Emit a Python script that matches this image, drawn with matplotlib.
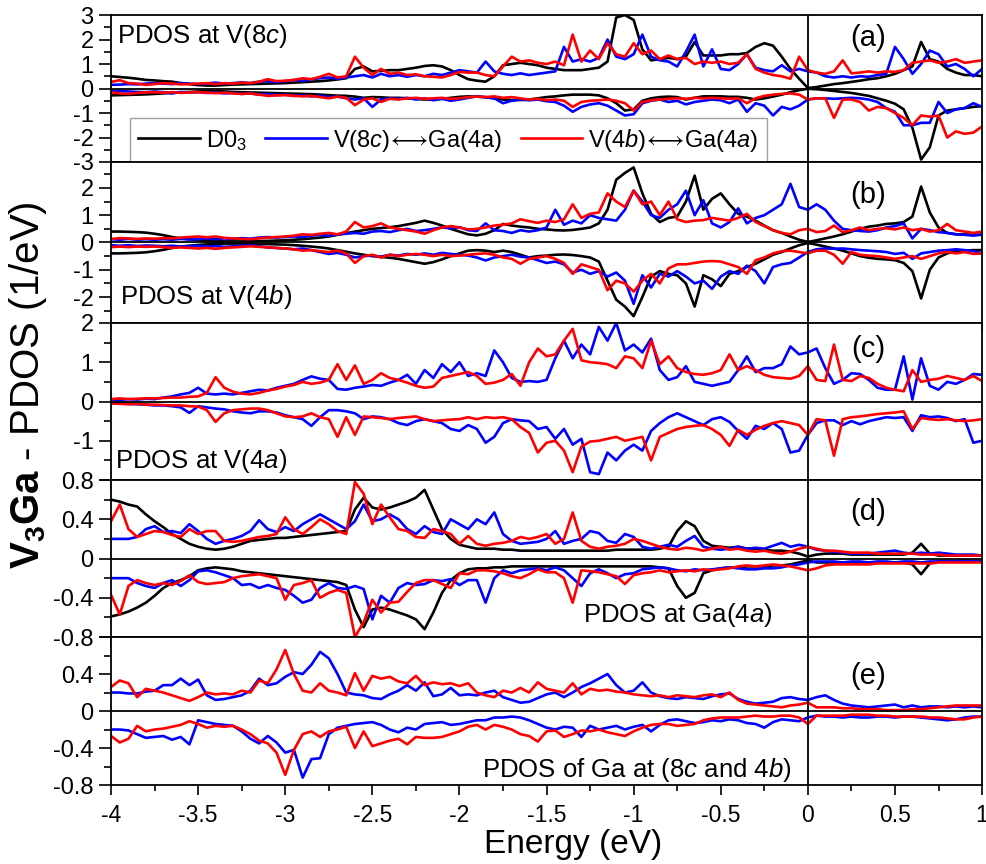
import numpy as np
import matplotlib.pyplot as plt
from matplotlib.ticker import MultipleLocator

plt.rcParams['font.family'] = ['Liberation Sans', 'DejaVu Sans']
plt.rcParams['mathtext.fontset'] = 'custom'
plt.rcParams['mathtext.rm'] = 'Liberation Sans'
plt.rcParams['mathtext.it'] = 'Liberation Sans:italic'
plt.rcParams['mathtext.bf'] = 'Liberation Sans:bold'
plt.rcParams['axes.unicode_minus'] = False

# energy grid (eV), 0.05 eV step, values at these points
energy = np.linspace(-4, 1, 101)

# ---- (a) PDOS at V(8c) ----
a_black_up = [0.50, 0.47, 0.44, 0.40, 0.35, 0.33, 0.30, 0.28, 0.22, 0.18, 0.14, 0.12, 0.12, 0.14, 0.16, 0.17, 0.18, 0.19, 0.20, 0.21,
              0.22, 0.24, 0.26, 0.28, 0.30, 0.33, 0.37, 0.42, 0.80, 0.90, 0.70, 0.72, 0.75, 0.75, 0.80, 0.85, 0.92, 0.95, 0.90, 0.75,
              0.55, 0.38, 0.32, 0.28, 0.50, 0.95, 1.00, 1.05, 1.00, 0.95, 0.85, 0.80, 0.75, 0.75, 0.75, 0.80, 0.85, 1.10, 2.90, 3.00,
              2.80, 1.60, 1.15, 1.20, 1.25, 1.20, 1.30, 1.90, 1.35, 1.35, 1.35, 1.40, 1.40, 1.45, 1.70, 1.85, 1.75, 1.30, 0.80, 0.40,
              0.02, 0.06, 0.12, 0.18, 0.22, 0.27, 0.32, 0.38, 0.42, 0.50, 0.60, 0.75, 0.90, 1.90, 1.20, 1.10, 0.80, 0.65, 0.55, 0.55,
              0.50]
a_black_dn = [-0.28, -0.27, -0.26, -0.25, -0.24, -0.22, -0.20, -0.18, -0.16, -0.14, -0.12, -0.10, -0.10, -0.12, -0.14, -0.15, -0.16, -0.17, -0.18, -0.19,
              -0.20, -0.21, -0.22, -0.23, -0.25, -0.27, -0.29, -0.30, -0.33, -0.38, -0.35, -0.36, -0.38, -0.38, -0.40, -0.42, -0.45, -0.44, -0.42, -0.38,
              -0.34, -0.32, -0.33, -0.36, -0.40, -0.45, -0.47, -0.47, -0.45, -0.40, -0.35, -0.32, -0.28, -0.25, -0.25, -0.25, -0.28, -0.40, -0.60, -0.90,
              -0.85, -0.50, -0.40, -0.35, -0.33, -0.35, -0.45, -0.38, -0.32, -0.32, -0.32, -0.34, -0.34, -0.38, -0.45, -0.40, -0.33, -0.25, -0.15, -0.07,
              -0.01, -0.03, -0.06, -0.10, -0.14, -0.18, -0.24, -0.30, -0.40, -0.50, -0.62, -0.85, -1.60, -2.90, -2.40, -1.10, -0.90, -0.85, -0.80, -0.75,
              -0.72]
a_blue_up = [0.15, 0.16, 0.18, 0.17, 0.20, 0.22, 0.20, 0.18, 0.22, 0.20, 0.18, 0.21, 0.24, 0.20, 0.22, 0.25, 0.22, 0.28, 0.30, 0.26,
             0.30, 0.35, 0.32, 0.38, 0.42, 0.45, 0.40, 0.45, 0.50, 0.55, 0.45, 0.60, 0.50, 0.55, 0.48, 0.55, 0.50, 0.60, 0.55, 0.65,
             0.75, 0.70, 0.65, 1.10, 0.70, 0.60, 0.55, 0.62, 0.55, 0.60, 0.65, 0.70, 1.70, 1.10, 1.20, 1.10, 1.25, 2.00, 1.30, 1.20,
             1.40, 2.20, 1.30, 1.15, 1.10, 0.90, 1.50, 2.20, 0.90, 1.60, 0.80, 0.75, 1.00, 1.40, 0.85, 0.75, 0.70, 0.95, 0.70, 0.80,
             0.70, 0.65, 0.50, 0.45, 0.50, 0.45, 0.50, 0.48, 0.55, 0.60, 1.70, 1.20, 0.60, 1.00, 1.55, 1.40, 0.90, 1.00, 0.80, 0.50,
             0.80]
a_blue_dn = [-0.12, -0.10, -0.12, -0.14, -0.15, -0.12, -0.15, -0.20, -0.14, -0.16, -0.15, -0.18, -0.16, -0.20, -0.18, -0.22, -0.20, -0.25, -0.22, -0.27,
             -0.25, -0.30, -0.28, -0.32, -0.30, -0.35, -0.33, -0.40, -0.45, -0.40, -0.75, -0.45, -0.40, -0.42, -0.38, -0.45, -0.40, -0.48, -0.42, -0.50,
             -0.45, -0.38, -0.32, -0.35, -0.40, -0.60, -0.50, -0.45, -0.48, -0.45, -0.52, -0.55, -0.70, -0.95, -0.75, -0.65, -0.60, -0.70, -0.90, -1.10,
             -1.05, -0.60, -0.50, -0.45, -0.55, -0.50, -0.65, -0.55, -0.50, -0.45, -0.48, -0.60, -0.45, -0.95, -0.60, -0.70, -1.10, -0.75, -0.85, -0.70,
             -0.45, -0.40, -0.40, -0.42, -0.40, -0.38, -0.40, -0.45, -0.55, -0.80, -0.95, -1.50, -1.50, -1.40, -1.40, -0.55, -1.00, -0.85, -0.80, -0.60,
             -0.75]
a_red_up = [0.27, 0.34, 0.22, 0.20, 0.15, 0.18, 0.22, 0.20, 0.17, 0.18, 0.20, 0.22, 0.18, 0.22, 0.20, 0.24, 0.22, 0.28, 0.38, 0.30,
            0.32, 0.35, 0.42, 0.38, 0.48, 0.60, 0.45, 0.50, 1.30, 0.85, 0.55, 0.80, 0.60, 0.65, 0.55, 0.58, 0.50, 0.48, 0.45, 0.55,
            0.68, 0.65, 0.65, 0.55, 0.50, 0.90, 1.30, 1.10, 1.15, 1.05, 1.00, 1.10, 0.95, 2.20, 1.10, 1.55, 1.20, 1.85, 1.40, 1.30,
            1.85, 1.40, 1.55, 1.20, 1.35, 1.20, 1.25, 1.00, 1.10, 1.05, 1.10, 1.00, 1.05, 1.40, 0.80, 0.65, 0.55, 0.50, 0.40, 1.30,
            0.75, 0.65, 0.60, 0.70, 1.15, 0.62, 0.65, 0.70, 0.65, 0.70, 0.68, 0.75, 1.05, 1.10, 1.15, 1.05, 1.10, 1.20, 1.05, 1.10,
            1.15]
a_red_dn = [-0.15, -0.20, -0.22, -0.18, -0.16, -0.15, -0.17, -0.15, -0.18, -0.16, -0.15, -0.17, -0.19, -0.17, -0.20, -0.22, -0.20, -0.25, -0.30, -0.28,
            -0.27, -0.30, -0.32, -0.30, -0.35, -0.40, -0.33, -0.38, -0.68, -0.45, -0.40, -0.55, -0.42, -0.45, -0.40, -0.38, -0.42, -0.40, -0.38, -0.42,
            -0.40, -0.35, -0.33, -0.35, -0.32, -0.38, -0.35, -0.40, -0.45, -0.42, -0.48, -0.45, -0.50, -0.75, -0.55, -0.50, -0.48, -0.45, -0.50, -0.60,
            -0.90, -0.55, -0.48, -0.45, -0.42, -0.40, -0.42, -0.38, -0.40, -0.38, -0.40, -0.42, -0.40, -0.60, -0.40, -0.30, -0.25, -0.22, -0.20, -0.25,
            -0.45, -0.40, -0.40, -1.20, -0.45, -0.45, -0.55, -0.90, -0.75, -0.80, -1.00, -1.20, -1.50, -1.10, -1.15, -1.10, -2.00, -1.75, -1.85, -1.80,
            -1.55]

# ---- (b) PDOS at V(4b) ----
b_black_up = [0.40, 0.40, 0.39, 0.38, 0.36, 0.32, 0.27, 0.20, 0.15, 0.12, 0.09, 0.07, 0.05, 0.04, 0.04, 0.04, 0.05, 0.05, 0.06, 0.07,
              0.08, 0.10, 0.12, 0.15, 0.18, 0.22, 0.28, 0.34, 0.40, 0.45, 0.50, 0.53, 0.56, 0.60, 0.66, 0.72, 0.80, 0.72, 0.62, 0.50,
              0.40, 0.30, 0.26, 0.32, 0.45, 0.68, 0.62, 0.58, 0.55, 0.50, 0.48, 0.45, 0.44, 0.46, 0.50, 0.55, 0.70, 1.20, 2.30, 2.55,
              2.75, 1.80, 1.05, 0.75, 0.90, 0.95, 1.50, 2.45, 1.20, 1.60, 1.80, 1.40, 1.05, 0.95, 0.80, 0.62, 0.45, 0.35, 0.22, 0.10,
              0.02, 0.08, 0.15, 0.22, 0.30, 0.40, 0.50, 0.58, 0.62, 0.68, 0.70, 0.75, 0.95, 2.05, 1.10, 0.55, 0.35, 0.30, 0.30, 0.28,
              0.28]
b_black_dn = [-0.40, -0.40, -0.39, -0.38, -0.36, -0.32, -0.27, -0.20, -0.15, -0.12, -0.09, -0.07, -0.05, -0.04, -0.04, -0.04, -0.05, -0.05, -0.06, -0.07,
              -0.08, -0.10, -0.12, -0.15, -0.18, -0.22, -0.28, -0.34, -0.40, -0.45, -0.50, -0.53, -0.56, -0.60, -0.66, -0.72, -0.78, -0.72, -0.62, -0.50,
              -0.40, -0.30, -0.28, -0.30, -0.35, -0.30, -0.35, -0.45, -0.55, -0.50, -0.48, -0.45, -0.44, -0.46, -0.50, -0.55, -0.70, -1.40, -2.10, -2.35,
              -2.70, -2.00, -1.25, -1.05, -1.15, -1.20, -1.50, -2.35, -1.20, -1.35, -1.60, -1.15, -1.05, -0.90, -0.78, -0.62, -0.45, -0.35, -0.22, -0.10,
              -0.02, -0.08, -0.15, -0.22, -0.30, -0.40, -0.50, -0.56, -0.60, -0.62, -0.65, -0.75, -1.05, -2.05, -1.00, -0.55, -0.40, -0.32, -0.30, -0.28,
              -0.28]
b_blue_up = [0.12, 0.10, 0.13, 0.10, 0.12, 0.10, 0.12, 0.10, 0.13, 0.11, 0.12, 0.14, 0.12, 0.15, 0.13, 0.16, 0.14, 0.18, 0.20, 0.18,
             0.20, 0.22, 0.20, 0.25, 0.28, 0.25, 0.30, 0.32, 0.35, 0.32, 0.40, 0.42, 0.38, 0.45, 0.50, 0.42, 0.45, 0.50, 0.55, 0.52,
             0.56, 0.45, 0.42, 0.70, 0.45, 0.42, 0.35, 0.45, 0.40, 0.45, 0.55, 1.20, 0.65, 0.80, 0.70, 1.00, 0.90, 0.85, 0.80, 1.20,
             1.90, 1.50, 1.00, 0.90, 1.20, 1.40, 1.90, 1.00, 1.55, 0.70, 0.55, 0.75, 1.25, 0.70, 0.90, 1.00, 1.20, 1.40, 2.15, 1.30,
             1.20, 1.40, 1.20, 0.80, 0.50, 0.45, 0.42, 0.40, 0.45, 0.55, 0.60, 0.70, 0.15, 0.50, 0.45, 0.38, 0.35, 0.30, 0.28, 0.25,
             0.30]
b_blue_dn = [-0.10, -0.12, -0.10, -0.13, -0.11, -0.12, -0.14, -0.12, -0.15, -0.13, -0.12, -0.15, -0.13, -0.16, -0.14, -0.12, -0.10, -0.14, -0.18, -0.20,
             -0.22, -0.25, -0.22, -0.28, -0.35, -0.42, -0.38, -0.45, -0.55, -0.50, -0.48, -0.52, -0.45, -0.48, -0.42, -0.45, -0.40, -0.45, -0.38, -0.42,
             -0.45, -0.48, -0.55, -0.66, -0.55, -0.50, -0.45, -0.52, -0.55, -0.65, -0.75, -0.70, -0.80, -1.10, -1.00, -1.15, -1.05, -1.25, -1.10, -1.40,
             -2.25, -1.20, -1.65, -1.15, -1.25, -1.05, -1.25, -1.50, -1.40, -1.70, -1.25, -1.05, -1.15, -0.85, -1.05, -1.50, -0.90, -0.80, -0.75, -0.55,
             -0.35, -0.25, -0.22, -0.23, -0.22, -0.25, -0.28, -0.30, -0.32, -0.35, -0.42, -0.38, -0.60, -0.40, -0.35, -0.30, -0.28, -0.25, -0.28, -0.32,
             -0.40]
b_red_up = [0.13, 0.16, 0.15, 0.13, 0.15, 0.14, 0.16, 0.15, 0.18, 0.20, 0.22, 0.19, 0.22, 0.17, 0.15, 0.13, 0.12, 0.15, 0.18, 0.20,
            0.22, 0.25, 0.30, 0.28, 0.32, 0.35, 0.30, 0.40, 0.75, 0.55, 0.60, 0.70, 0.55, 0.50, 0.45, 0.40, 0.32, 0.45, 0.55, 0.60,
            0.55, 0.48, 0.50, 0.55, 0.62, 0.65, 0.70, 0.85, 0.78, 0.72, 0.80, 0.75, 0.85, 1.40, 0.90, 1.05, 1.10, 1.80, 1.50, 1.30,
            1.90, 1.40, 1.50, 1.00, 1.50, 0.85, 0.75, 0.80, 0.82, 0.90, 0.85, 0.80, 0.90, 1.05, 0.75, 0.60, 0.45, 0.35, 0.30, 0.45,
            0.50, 0.38, 0.42, 0.62, 0.38, 0.45, 0.55, 0.45, 0.50, 0.52, 0.48, 0.55, 0.45, 0.50, 0.40, 0.45, 0.68, 0.45, 0.40, 0.35,
            0.40]
b_red_dn = [-0.17, -0.15, -0.17, -0.15, -0.16, -0.15, -0.17, -0.20, -0.18, -0.20, -0.22, -0.20, -0.23, -0.20, -0.18, -0.16, -0.14, -0.16, -0.18, -0.20,
            -0.22, -0.25, -0.30, -0.28, -0.32, -0.35, -0.30, -0.40, -0.75, -0.50, -0.45, -0.55, -0.45, -0.50, -0.45, -0.42, -0.45, -0.50, -0.45, -0.50,
            -0.48, -0.45, -0.42, -0.40, -0.45, -0.55, -0.60, -0.78, -0.60, -0.55, -0.50, -0.60, -0.75, -1.15, -0.80, -0.90, -1.00, -1.75, -1.40, -1.50,
            -1.80, -1.40, -1.15, -1.50, -0.95, -0.80, -0.80, -0.75, -0.70, -0.68, -0.70, -0.80, -0.90, -1.15, -0.65, -0.55, -0.40, -0.32, -0.30, -0.35,
            -0.40, -0.30, -0.30, -0.45, -0.78, -0.35, -0.45, -0.48, -0.50, -0.55, -0.60, -0.55, -0.50, -0.60, -0.50, -0.40, -0.35, -0.40, -0.35, -0.42,
            -0.40]

# ---- (c) PDOS at V(4a) ----
c_blue_up = [0.05, 0.04, 0.06, 0.05, 0.07, 0.06, 0.10, 0.13, 0.18, 0.22, 0.35, 0.20, 0.18, 0.20, 0.18, 0.22, 0.26, 0.30, 0.28, 0.35,
             0.40, 0.45, 0.55, 0.64, 0.58, 0.55, 0.32, 0.30, 0.35, 0.38, 0.42, 0.40, 0.48, 0.55, 0.68, 0.45, 0.80, 0.60, 0.95, 0.75,
             1.00, 0.65, 0.72, 0.65, 1.30, 1.00, 0.60, 0.50, 0.52, 0.50, 0.55, 1.10, 1.55, 1.10, 1.45, 1.20, 1.90, 1.55, 2.00, 1.30,
             1.45, 1.25, 1.60, 0.80, 0.55, 0.62, 0.90, 0.50, 0.45, 0.40, 0.45, 0.50, 0.80, 1.15, 0.75, 0.85, 0.85, 0.95, 1.40, 1.20,
             1.25, 1.35, 0.85, 0.45, 0.55, 0.72, 0.70, 0.55, 0.35, 0.30, 0.30, 1.15, 0.05, 1.10, 0.40, 0.30, 0.50, 0.45, 0.55, 0.70,
             0.68]
c_blue_dn = [-0.05, -0.04, -0.06, -0.07, -0.08, -0.10, -0.10, -0.12, -0.15, -0.29, -0.12, -0.15, -0.18, -0.20, -0.25, -0.28, -0.30, -0.25, -0.25, -0.28,
             -0.35, -0.40, -0.45, -0.62, -0.40, -0.22, -0.22, -0.25, -0.30, -0.45, -0.38, -0.40, -0.45, -0.55, -0.60, -0.50, -0.45, -0.50, -0.55, -0.70,
             -0.75, -0.60, -0.70, -1.05, -0.90, -0.55, -0.45, -0.48, -0.50, -0.70, -0.65, -0.95, -0.70, -1.10, -0.95, -1.80, -1.85, -1.30, -1.50, -1.25,
             -1.10, -1.25, -0.75, -0.55, -0.40, -0.30, -0.40, -0.50, -0.60, -0.45, -0.40, -0.52, -0.75, -0.95, -0.62, -0.70, -0.55, -0.70, -1.30, -1.25,
             -0.85, -0.55, -0.48, -0.48, -0.60, -0.50, -0.58, -0.50, -0.45, -0.40, -0.42, -0.40, -0.75, -0.35, -0.40, -0.38, -0.42, -0.50, -0.45, -1.05,
             -1.00]
c_red_up = [0.06, 0.08, 0.06, 0.07, 0.08, 0.08, 0.09, 0.10, 0.10, 0.12, 0.13, 0.22, 0.62, 0.35, 0.25, 0.20, 0.18, 0.22, 0.28, 0.32,
            0.38, 0.42, 0.50, 0.45, 0.48, 0.55, 0.95, 0.55, 0.92, 0.45, 0.55, 0.72, 0.60, 0.55, 0.48, 0.40, 0.35, 0.38, 0.60, 0.65,
            0.70, 0.75, 0.65, 0.45, 0.48, 0.55, 0.70, 0.40, 1.00, 1.35, 1.15, 1.20, 1.55, 1.85, 1.05, 1.00, 0.98, 0.95, 0.85, 1.15,
            1.10, 0.85, 1.55, 0.95, 1.15, 0.85, 0.75, 0.70, 0.68, 0.72, 0.80, 1.20, 0.80, 0.90, 0.80, 0.68, 0.62, 0.60, 0.58, 0.65,
            0.90, 0.55, 0.52, 1.45, 0.55, 0.52, 0.65, 0.60, 0.45, 0.35, 0.30, 0.26, 0.80, 0.50, 0.55, 0.58, 0.65, 0.60, 0.55, 0.65,
            0.52]
c_red_dn = [-0.05, -0.06, -0.07, -0.06, -0.08, -0.08, -0.09, -0.10, -0.10, -0.12, -0.13, -0.22, -0.52, -0.30, -0.22, -0.20, -0.18, -0.18, -0.22, -0.30,
            -0.38, -0.40, -0.38, -0.30, -0.40, -0.45, -0.90, -0.40, -0.85, -0.38, -0.40, -0.42, -0.45, -0.42, -0.40, -0.38, -0.45, -0.50, -0.48, -0.46,
            -0.45, -0.40, -0.45, -0.40, -0.42, -0.40, -0.45, -0.65, -0.80, -1.30, -1.05, -1.00, -1.25, -1.80, -1.15, -1.02, -1.00, -0.95, -0.90, -1.00,
            -0.95, -0.90, -1.50, -0.90, -0.80, -0.70, -0.65, -0.62, -0.60, -0.70, -0.85, -1.13, -0.72, -0.85, -0.72, -0.62, -0.55, -0.50, -0.55, -0.60,
            -0.85, -0.45, -0.48, -1.38, -0.45, -0.40, -0.38, -0.35, -0.32, -0.30, -0.28, -0.25, -0.70, -0.42, -0.45, -0.47, -0.45, -0.48, -0.50, -0.48,
            -0.45]

# ---- (d) PDOS at Ga(4a) ----
d_black_up = [0.60, 0.58, 0.55, 0.53, 0.45, 0.38, 0.32, 0.25, 0.20, 0.15, 0.12, 0.10, 0.09, 0.10, 0.12, 0.15, 0.18, 0.19, 0.20, 0.21,
              0.21, 0.22, 0.23, 0.24, 0.25, 0.26, 0.27, 0.28, 0.50, 0.62, 0.52, 0.50, 0.52, 0.55, 0.58, 0.62, 0.70, 0.50, 0.30, 0.20,
              0.14, 0.12, 0.10, 0.10, 0.10, 0.09, 0.09, 0.08, 0.08, 0.08, 0.08, 0.08, 0.08, 0.08, 0.08, 0.08, 0.08, 0.08, 0.09, 0.09,
              0.09, 0.09, 0.09, 0.10, 0.12, 0.28, 0.38, 0.33, 0.18, 0.13, 0.12, 0.11, 0.12, 0.10, 0.10, 0.09, 0.08, 0.08, 0.07, 0.05,
              0.02, 0.04, 0.05, 0.05, 0.05, 0.04, 0.04, 0.04, 0.04, 0.04, 0.04, 0.04, 0.06, 0.15, 0.05, 0.03, 0.03, 0.03, 0.03, 0.03,
              0.03]
d_black_dn = [-0.59, -0.57, -0.54, -0.50, -0.45, -0.38, -0.30, -0.25, -0.22, -0.18, -0.12, -0.10, -0.09, -0.10, -0.11, -0.13, -0.14, -0.15, -0.16, -0.17,
              -0.18, -0.19, -0.20, -0.21, -0.22, -0.23, -0.24, -0.27, -0.52, -0.70, -0.52, -0.50, -0.52, -0.55, -0.58, -0.62, -0.72, -0.55, -0.35, -0.22,
              -0.15, -0.11, -0.10, -0.10, -0.09, -0.09, -0.08, -0.08, -0.08, -0.08, -0.08, -0.08, -0.08, -0.08, -0.08, -0.08, -0.08, -0.08, -0.08, -0.08,
              -0.08, -0.08, -0.08, -0.09, -0.10, -0.28, -0.40, -0.35, -0.15, -0.12, -0.10, -0.09, -0.09, -0.08, -0.08, -0.08, -0.07, -0.07, -0.06, -0.04,
              -0.02, -0.04, -0.04, -0.04, -0.04, -0.04, -0.04, -0.04, -0.04, -0.04, -0.04, -0.04, -0.06, -0.16, -0.05, -0.03, -0.03, -0.03, -0.03, -0.03,
              -0.03]
d_blue_up = [0.20, 0.20, 0.20, 0.22, 0.30, 0.33, 0.27, 0.28, 0.26, 0.35, 0.28, 0.20, 0.15, 0.18, 0.20, 0.23, 0.28, 0.39, 0.30, 0.27,
             0.32, 0.28, 0.35, 0.40, 0.45, 0.40, 0.35, 0.30, 0.38, 0.55, 0.38, 0.40, 0.45, 0.40, 0.30, 0.25, 0.33, 0.27, 0.25, 0.40,
             0.35, 0.30, 0.40, 0.35, 0.47, 0.25, 0.18, 0.15, 0.16, 0.17, 0.20, 0.28, 0.15, 0.18, 0.20, 0.28, 0.26, 0.18, 0.16, 0.25,
             0.22, 0.12, 0.10, 0.12, 0.14, 0.12, 0.18, 0.23, 0.12, 0.10, 0.09, 0.10, 0.12, 0.10, 0.11, 0.10, 0.13, 0.16, 0.12, 0.14,
             0.12, 0.09, 0.08, 0.07, 0.06, 0.05, 0.05, 0.05, 0.06, 0.07, 0.08, 0.06, 0.05, 0.06, 0.05, 0.06, 0.05, 0.04, 0.04, 0.04,
             0.03]
d_blue_dn = [-0.20, -0.20, -0.20, -0.25, -0.28, -0.30, -0.25, -0.22, -0.28, -0.22, -0.13, -0.12, -0.14, -0.17, -0.20, -0.27, -0.26, -0.30, -0.27, -0.30,
             -0.32, -0.38, -0.45, -0.42, -0.30, -0.25, -0.30, -0.31, -0.28, -0.31, -0.62, -0.38, -0.45, -0.30, -0.25, -0.27, -0.26, -0.22, -0.23, -0.21,
             -0.27, -0.22, -0.22, -0.45, -0.20, -0.12, -0.15, -0.12, -0.11, -0.10, -0.12, -0.09, -0.12, -0.20, -0.28, -0.15, -0.11, -0.15, -0.20, -0.16,
             -0.15, -0.11, -0.10, -0.09, -0.10, -0.12, -0.13, -0.11, -0.12, -0.11, -0.10, -0.09, -0.10, -0.11, -0.11, -0.10, -0.10, -0.09, -0.07, -0.06,
             -0.04, -0.03, -0.03, -0.03, -0.04, -0.03, -0.03, -0.04, -0.03, -0.03, -0.04, -0.03, -0.03, -0.04, -0.03, -0.03, -0.03, -0.03, -0.02, -0.03,
             -0.03]
d_red_up = [0.38, 0.55, 0.30, 0.22, 0.25, 0.28, 0.27, 0.24, 0.22, 0.30, 0.25, 0.28, 0.28, 0.18, 0.17, 0.18, 0.20, 0.22, 0.23, 0.25,
            0.42, 0.30, 0.25, 0.32, 0.40, 0.35, 0.28, 0.25, 0.78, 0.66, 0.35, 0.55, 0.42, 0.30, 0.28, 0.22, 0.21, 0.30, 0.28, 0.25,
            0.15, 0.23, 0.15, 0.13, 0.15, 0.16, 0.18, 0.22, 0.20, 0.22, 0.25, 0.15, 0.20, 0.47, 0.18, 0.12, 0.10, 0.12, 0.13, 0.15,
            0.20, 0.18, 0.15, 0.12, 0.10, 0.09, 0.11, 0.10, 0.08, 0.10, 0.12, 0.09, 0.10, 0.08, 0.07, 0.08, 0.06, 0.05, 0.07, 0.10,
            0.12, 0.10, 0.08, 0.08, 0.07, 0.06, 0.06, 0.06, 0.05, 0.05, 0.05, 0.05, 0.05, 0.04, 0.04, 0.04, 0.03, 0.03, 0.03, 0.03,
            0.03]
d_red_dn = [-0.37, -0.57, -0.28, -0.22, -0.25, -0.27, -0.25, -0.27, -0.23, -0.17, -0.24, -0.26, -0.25, -0.24, -0.20, -0.18, -0.17, -0.16, -0.18, -0.20,
            -0.42, -0.27, -0.25, -0.22, -0.40, -0.35, -0.32, -0.35, -0.80, -0.65, -0.42, -0.55, -0.45, -0.44, -0.34, -0.25, -0.22, -0.22, -0.26, -0.30,
            -0.15, -0.16, -0.12, -0.12, -0.13, -0.15, -0.18, -0.20, -0.16, -0.11, -0.14, -0.14, -0.20, -0.45, -0.12, -0.13, -0.14, -0.16, -0.18, -0.26,
            -0.17, -0.15, -0.14, -0.12, -0.14, -0.13, -0.12, -0.13, -0.11, -0.12, -0.11, -0.10, -0.08, -0.07, -0.08, -0.07, -0.06, -0.07, -0.08, -0.10,
            -0.12, -0.10, -0.07, -0.06, -0.06, -0.06, -0.06, -0.06, -0.05, -0.05, -0.05, -0.05, -0.05, -0.05, -0.05, -0.04, -0.04, -0.04, -0.04, -0.04,
            -0.04]

# ---- (e) PDOS of Ga at (8c and 4b) ----
e_blue_up = [0.20, 0.20, 0.19, 0.19, 0.21, 0.22, 0.28, 0.28, 0.35, 0.28, 0.34, 0.17, 0.12, 0.13, 0.15, 0.17, 0.22, 0.35, 0.28, 0.30,
             0.37, 0.42, 0.40, 0.50, 0.64, 0.57, 0.40, 0.20, 0.18, 0.17, 0.14, 0.13, 0.18, 0.22, 0.28, 0.22, 0.31, 0.16, 0.18, 0.25,
             0.17, 0.18, 0.17, 0.20, 0.22, 0.15, 0.12, 0.09, 0.10, 0.14, 0.18, 0.20, 0.15, 0.20, 0.26, 0.30, 0.35, 0.40, 0.28, 0.20,
             0.22, 0.31, 0.20, 0.16, 0.14, 0.13, 0.15, 0.14, 0.13, 0.16, 0.18, 0.19, 0.13, 0.10, 0.08, 0.09, 0.10, 0.14, 0.15, 0.13,
             0.12, 0.15, 0.17, 0.12, 0.08, 0.06, 0.05, 0.04, 0.05, 0.06, 0.07, 0.04, 0.06, 0.04, 0.05, 0.05, 0.04, 0.05, 0.04, 0.05,
             0.04]
e_blue_dn = [-0.20, -0.20, -0.21, -0.25, -0.29, -0.28, -0.27, -0.31, -0.28, -0.36, -0.10, -0.12, -0.14, -0.15, -0.16, -0.22, -0.30, -0.35, -0.27, -0.34,
             -0.45, -0.42, -0.72, -0.52, -0.51, -0.25, -0.18, -0.16, -0.14, -0.13, -0.12, -0.15, -0.20, -0.23, -0.18, -0.20, -0.14, -0.13, -0.12, -0.15,
             -0.14, -0.12, -0.10, -0.10, -0.07, -0.07, -0.06, -0.07, -0.10, -0.14, -0.18, -0.20, -0.17, -0.18, -0.28, -0.16, -0.20, -0.18, -0.16, -0.20,
             -0.17, -0.15, -0.22, -0.15, -0.10, -0.09, -0.11, -0.13, -0.12, -0.10, -0.11, -0.09, -0.10, -0.13, -0.14, -0.18, -0.12, -0.09, -0.10, -0.11,
             -0.07, -0.05, -0.06, -0.06, -0.07, -0.06, -0.07, -0.07, -0.06, -0.06, -0.07, -0.06, -0.06, -0.07, -0.08, -0.09, -0.10, -0.09, -0.07, -0.06,
             -0.06]
e_red_up = [0.26, 0.33, 0.30, 0.15, 0.24, 0.22, 0.20, 0.17, 0.14, 0.11, 0.15, 0.20, 0.18, 0.19, 0.18, 0.22, 0.20, 0.33, 0.30, 0.45,
            0.66, 0.40, 0.22, 0.20, 0.30, 0.22, 0.20, 0.17, 0.41, 0.22, 0.38, 0.35, 0.37, 0.32, 0.30, 0.38, 0.28, 0.31, 0.29, 0.30,
            0.27, 0.30, 0.20, 0.17, 0.15, 0.22, 0.20, 0.25, 0.20, 0.31, 0.24, 0.22, 0.20, 0.30, 0.18, 0.24, 0.22, 0.23, 0.21, 0.20,
            0.18, 0.17, 0.16, 0.17, 0.15, 0.17, 0.16, 0.15, 0.17, 0.18, 0.15, 0.20, 0.12, 0.08, 0.07, 0.06, 0.05, 0.04, 0.06, 0.07,
            0.09, 0.04, 0.04, 0.04, 0.03, 0.03, 0.02, 0.02, 0.02, 0.01, 0.01, 0.01, 0.02, 0.02, 0.03, 0.04, 0.05, 0.06, 0.06, 0.06,
            0.06]
e_red_dn = [-0.27, -0.34, -0.30, -0.16, -0.22, -0.20, -0.19, -0.17, -0.15, -0.11, -0.14, -0.18, -0.16, -0.17, -0.16, -0.20, -0.25, -0.32, -0.35, -0.45,
            -0.69, -0.42, -0.25, -0.22, -0.28, -0.22, -0.20, -0.17, -0.40, -0.22, -0.38, -0.35, -0.32, -0.30, -0.36, -0.28, -0.29, -0.29, -0.28, -0.25,
            -0.22, -0.17, -0.15, -0.20, -0.15, -0.17, -0.20, -0.25, -0.27, -0.33, -0.22, -0.21, -0.28, -0.25, -0.21, -0.22, -0.20, -0.23, -0.25, -0.27,
            -0.22, -0.18, -0.15, -0.14, -0.14, -0.16, -0.15, -0.14, -0.10, -0.08, -0.07, -0.07, -0.07, -0.06, -0.05, -0.06, -0.06, -0.05, -0.05, -0.07,
            -0.14, -0.05, -0.05, -0.05, -0.05, -0.04, -0.04, -0.04, -0.05, -0.05, -0.06, -0.06, -0.06, -0.06, -0.07, -0.07, -0.08, -0.09, -0.09, -0.07,
            -0.06]

legend_labels = ['D0$_3$',
                 'V($\\mathit{8c}$)$\\!\\longleftrightarrow\\!$Ga(4a)',
                 'V($\\mathit{4b}$)$\\!\\longleftrightarrow\\!$Ga($\\mathit{4a}$)']
colors = ['black', '#0000ff', '#ff0000']

# panel: rect, ylim, yticks, ytick labels, minor step, curves, label, label pos, panel tag, tag y
panels = [
    ([0.1125, 0.8125, 0.8825, 0.1701], (-3, 3), [-3, -2, -1, 0, 1, 2, 3], ['-3', '-2', '-1', '0', '1', '2', '3'], 0.5,
     [(a_black_up, a_black_dn, 0), (a_blue_up, a_blue_dn, 1), (a_red_up, a_red_dn, 2)],
     'PDOS at V($\\mathit{8c}$)', (0.007, 0.95, 'top'), '(a)', 0.845),
    ([0.1125, 0.6262, 0.8825, 0.1863], (-2.95, 2.95), [-2, -1, 0, 1, 2], ['-2', '-1', '0', '1', '2'], 0.5,
     [(b_black_up, b_black_dn, 0), (b_blue_up, b_blue_dn, 1), (b_red_up, b_red_dn, 2)],
     'PDOS at V($\\mathit{4b}$)', (0.01, 0.12, 'baseline'), '(b)', 0.795),
    ([0.1125, 0.4444, 0.8825, 0.1818], (-2, 2), [-2, -1, 0, 1, 2], ['', '-1', '0', '1', '2'], 0.5,
     [(c_blue_up, c_blue_dn, 1), (c_red_up, c_red_dn, 2)],
     'PDOS at V($\\mathit{4a}$)', (0.005, 0.075, 'baseline'), '(c)', 0.835),
    ([0.1125, 0.2627, 0.8825, 0.1817], (-0.8, 0.8), [-0.8, -0.4, 0, 0.4, 0.8], ['-0.8', '-0.4', '0', '0.4', '0.8'], 0.2,
     [(d_black_up, d_black_dn, 0), (d_blue_up, d_blue_dn, 1), (d_red_up, d_red_dn, 2)],
     'PDOS at Ga($\\mathit{4a}$)', (0.542, 0.095, 'baseline'), '(d)', 0.795),
    ([0.1125, 0.0914, 0.8825, 0.1713], (-0.8, 0.8), [-0.8, -0.4, 0, 0.4, 0.8], ['-0.8', '-0.4', '0', '0.4', ''], 0.2,
     [(e_blue_up, e_blue_dn, 1), (e_red_up, e_red_dn, 2)],
     'PDOS of Ga at ($\\mathit{8c}$ and $\\mathit{4b}$)', (0.426, 0.055, 'baseline'), '(e)', 0.74),
]

fig = plt.figure(figsize=(9.87, 8.64), dpi=100)
axes = []
for i, (rect, ylim, yt, ytl, minor, curves, txt, tpos, tag, tagy) in enumerate(panels):
    ax = fig.add_axes(rect)
    axes.append(ax)
    for up, dn, c in curves:
        ax.plot(energy, up, color=colors[c], lw=1.9, label=legend_labels[c])
        ax.plot(energy, dn, color=colors[c], lw=1.9)
    ax.axhline(0, color='black', lw=1.3)
    ax.axvline(0, color='black', lw=1.3)
    ax.set_xlim(-4, 1)
    ax.set_ylim(*ylim)
    ax.set_yticks(yt)
    ax.set_yticklabels(ytl)
    ax.yaxis.set_minor_locator(MultipleLocator(minor))
    ax.xaxis.set_major_locator(MultipleLocator(0.5))
    ax.xaxis.set_minor_locator(MultipleLocator(0.25))
    ax.tick_params(axis='both', which='both', direction='out', width=1.2, top=False, right=False)
    ax.tick_params(axis='x', which='major', length=7.5)
    ax.tick_params(axis='x', which='minor', length=4)
    ax.tick_params(axis='y', which='major', length=8.5)
    ax.tick_params(axis='y', which='minor', length=5)
    ax.tick_params(axis='y', labelsize=17, pad=4)
    ax.tick_params(axis='x', labelsize=16.5, pad=6)
    if i < len(panels) - 1:
        ax.tick_params(axis='x', labelbottom=False)
    else:
        ax.set_xticks([-4, -3.5, -3, -2.5, -2, -1.5, -1, -0.5, 0, 0.5, 1])
        ax.set_xticklabels(['-4', '-3.5', '-3', '-2.5', '-2', '-1.5', '-1', '-0.5', '0', '0.5', '1'])
    for s in ax.spines.values():
        s.set_linewidth(1.3)
    ax.text(tpos[0], tpos[1], txt, transform=ax.transAxes, fontsize=18.5, va=tpos[2], ha='left')
    ax.text(0.869, tagy, tag, transform=ax.transAxes, fontsize=21, ha='center', va='center')

handles = axes[0].get_lines()
leg = axes[0].legend([handles[0], handles[2], handles[4]], legend_labels, loc='lower left',
                     bbox_to_anchor=(0.022, 0.0), ncol=3, fancybox=False, edgecolor='#a0a0a0',
                     framealpha=1, fontsize=17, handlelength=2.6, handletextpad=0.25,
                     columnspacing=0.8, borderpad=0.35, borderaxespad=0)
leg.get_frame().set_linewidth(1.0)

fig.text(0.028, 0.554, '$\\mathbf{V_3Ga}$ - PDOS (1/eV)', rotation=90, fontsize=29,
         ha='center', va='center')
fig.text(0.5805, 0.013, 'Energy (eV)', fontsize=24, ha='center', va='baseline')

fig.savefig('out.png', dpi=100)
